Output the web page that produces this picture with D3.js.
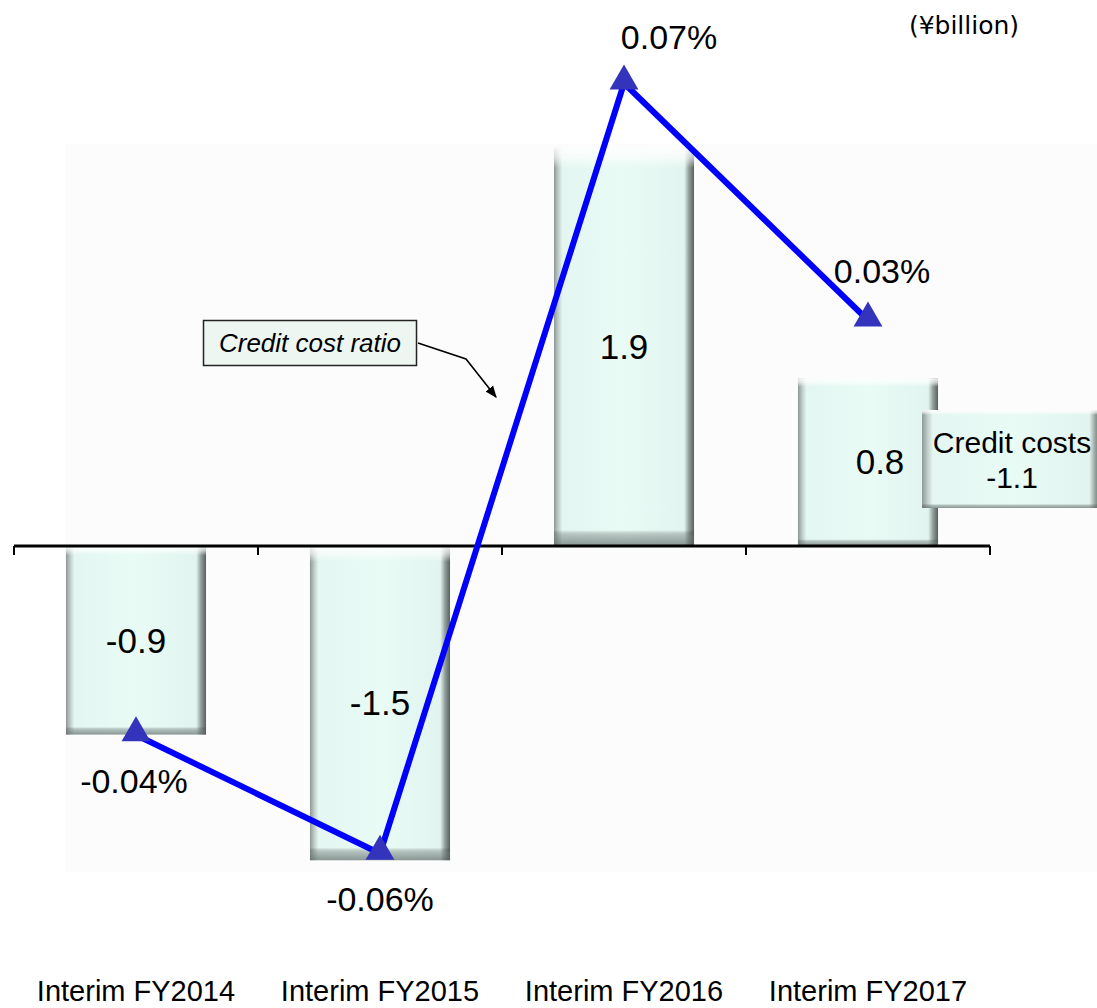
<!DOCTYPE html>
<html>
<head>
<meta charset="utf-8">
<script src="https://cdn.jsdelivr.net/npm/d3@7"></script>
<style>
  html, body { margin: 0; padding: 0; background: #ffffff; }
  svg { display: block; font-family: "Liberation Sans", Arial, sans-serif; }
</style>
</head>
<body>
<svg id="chart" width="1097" height="1008"></svg>
<script>
// Half-year periods
const categories = ["Interim FY2014", "Interim FY2015", "Interim FY2016", "Interim FY2017"];
// Credit costs (¥billion)
const creditCosts = [-0.9, -1.5, 1.9, 0.8];
// Credit cost ratio (%)
const creditCostRatio = [-0.04, -0.06, 0.07, 0.03];
const ratioLabels = ["-0.04%", "-0.06%", "0.07%", "0.03%"];
// Total shown in the side callout
const calloutTitle = "Credit costs";
const calloutValue = "-1.1";
const unitLabel = "(¥billion)";
const seriesLabel = "Credit cost ratio";

const svg = d3.select("#chart");
const W = 1097, H = 1008;

// Scales
const x = d3.scaleBand().domain(categories).range([14, 990]).paddingInner(0.426).paddingOuter(0.213);
const yBar = d3.scaleLinear().domain([-2, 2]).range([965, 127]);
const yRatio = d3.scaleLinear().domain([-0.08, 0.08]).range([972, 24]);
const fmt = v => d3.format(".1f")(v).replace("\u2212", "-");

const defs = svg.append("defs");
// Bevelled bar shading: horizontal edges
const gH = defs.append("linearGradient").attr("id", "barH").attr("x1", 0).attr("x2", 1).attr("y1", 0).attr("y2", 0);
[["0%", "#8d9996"], ["3%", "#bfcbc7"], ["6%", "#e4f6f1"], ["50%", "#e8fbf5"], ["93%", "#e2f4ef"], ["96.5%", "#8f9c98"], ["100%", "#56625f"]]
  .forEach(([o, c]) => gH.append("stop").attr("offset", o).attr("stop-color", c));
// Vertical highlight/shadow overlay
const gV = defs.append("linearGradient").attr("id", "barV").attr("x1", 0).attr("x2", 0).attr("y1", 0).attr("y2", 1);
[["0%", "#ffffff", 0.9], ["2.5%", "#ffffff", 0.6], ["5%", "#ffffff", 0], ["96%", "#000000", 0], ["97.5%", "#5a6663", 0.4], ["100%", "#56625f", 0.65]]
  .forEach(([o, c, op]) => gV.append("stop").attr("offset", o).attr("stop-color", c).attr("stop-opacity", op));
const marker = defs.append("marker").attr("id", "arrow").attr("viewBox", "0 0 10 10")
  .attr("refX", 9).attr("refY", 5).attr("markerWidth", 12).attr("markerHeight", 12)
  .attr("markerUnits", "userSpaceOnUse").attr("orient", "auto");
marker.append("path").attr("d", "M0,1 L10,5 L0,9 Z").attr("fill", "#000");

// Faint plot background
svg.append("rect").attr("x", 65).attr("y", 144).attr("width", W - 65).attr("height", 728).attr("fill", "#fdfcfd");

// Bars
const bars = svg.append("g");
categories.forEach((c, i) => {
  const v = creditCosts[i];
  const y0 = yBar(Math.max(0, v)), y1 = yBar(Math.min(0, v));
  const bx = x(c), bw = x.bandwidth();
  bars.append("rect").attr("x", bx).attr("y", y0).attr("width", bw).attr("height", y1 - y0).attr("fill", "url(#barH)");
  bars.append("rect").attr("x", bx).attr("y", y0).attr("width", bw).attr("height", y1 - y0).attr("fill", "url(#barV)");
  bars.append("text").attr("x", bx + bw / 2 + (i === 3 ? 12 : 0)).attr("y", (y0 + y1) / 2).attr("dy", "0.35em")
    .attr("text-anchor", "middle").attr("font-size", 35).attr("fill", "#000").text(fmt(v));
});

// Category axis at zero
const axis = d3.axisBottom(x).tickSize(0).tickFormat("");
const ax = svg.append("g").attr("transform", `translate(0,${yBar(0)})`).call(axis);
ax.select(".domain").attr("stroke", "#000").attr("stroke-width", 3).attr("d", `M14,0H990`);
const bounds = [14].concat(categories.map(c => x(c) + x.bandwidth() / 2 + x.step() / 2));
ax.selectAll(".bound").data(bounds).join("line").attr("class", "bound")
  .attr("x1", d => d).attr("x2", d => d).attr("y1", 0).attr("y2", 9).attr("stroke", "#000").attr("stroke-width", 2);

// Category labels
svg.append("g").selectAll("text").data(categories).join("text")
  .attr("x", d => x(d) + x.bandwidth() / 2).attr("y", 1001).attr("text-anchor", "middle")
  .attr("font-size", 29).attr("fill", "#000").text(d => d);

// Ratio line
const pts = categories.map((c, i) => [x(c) + x.bandwidth() / 2, yRatio(creditCostRatio[i])]);
svg.append("path").attr("d", d3.line()(pts)).attr("fill", "none").attr("stroke", "#0000ff")
  .attr("stroke-width", 6).attr("stroke-linejoin", "round");
svg.append("g").selectAll("path").data(pts).join("path")
  .attr("transform", d => `translate(${d[0]},${d[1] - 2})`)
  .attr("d", d3.symbol().type(d3.symbolTriangle).size(360)).attr("fill", "#3333bb");

// Ratio labels
const ratioOffsets = [[-2, 46], [0, 46], [45, -46], [14, -49]];
svg.append("g").selectAll("text").data(pts).join("text")
  .attr("x", (d, i) => d[0] + ratioOffsets[i][0]).attr("y", (d, i) => d[1] + ratioOffsets[i][1])
  .attr("dy", "0.35em").attr("text-anchor", "middle").attr("font-size", 34).attr("fill", "#000")
  .text((d, i) => ratioLabels[i]);

// Series callout
svg.append("rect").attr("x", 203.5).attr("y", 320.5).attr("width", 213).attr("height", 45)
  .attr("fill", "#eef6f2").attr("stroke", "#222").attr("stroke-width", 1.5);
svg.append("text").attr("x", 310).attr("y", 343).attr("dy", "0.35em").attr("text-anchor", "middle")
  .attr("font-size", 26).attr("font-style", "italic").attr("fill", "#000").text(seriesLabel);
svg.append("path").attr("d", "M418,343 L466,359 L496,397").attr("fill", "none")
  .attr("stroke", "#000").attr("stroke-width", 1.6).attr("marker-end", "url(#arrow)");

// Totals callout
const cb = svg.append("g");
cb.append("rect").attr("x", 922).attr("y", 410).attr("width", 180).attr("height", 98).attr("fill", "url(#barH)");
cb.append("rect").attr("x", 922).attr("y", 410).attr("width", 180).attr("height", 98).attr("fill", "url(#barV)");
cb.append("text").attr("x", 1012).attr("y", 442).attr("dy", "0.35em").attr("text-anchor", "middle")
  .attr("font-size", 30).attr("fill", "#000").text(calloutTitle);
cb.append("text").attr("x", 1012).attr("y", 477).attr("dy", "0.35em").attr("text-anchor", "middle")
  .attr("font-size", 30).attr("fill", "#000").text(calloutValue);

// Unit label
svg.append("text").attr("x", 964).attr("y", 25).attr("dy", "0.35em").attr("text-anchor", "middle")
  .attr("font-family", "'DejaVu Sans', sans-serif")
  .attr("font-size", 25).attr("fill", "#000").text(unitLabel);
</script>
</body>
</html>
